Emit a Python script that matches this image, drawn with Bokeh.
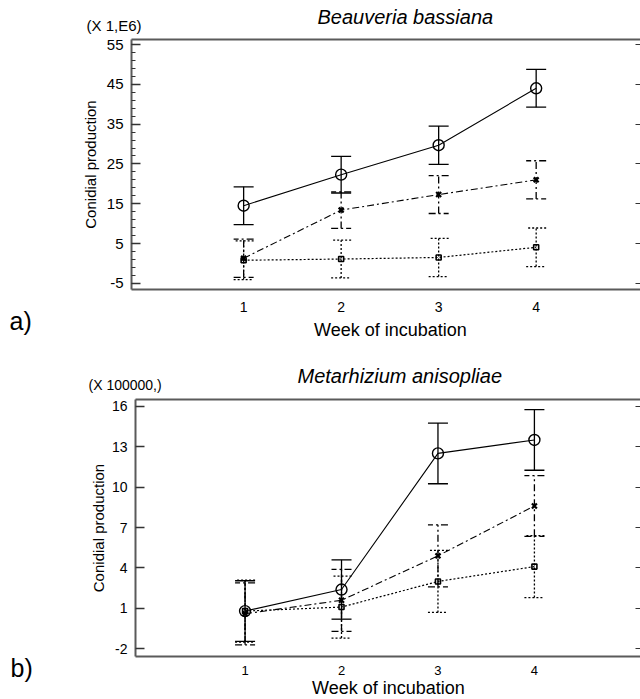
import math
from bokeh.plotting import figure
from bokeh.models import (Range1d, FixedTicker, LinearAxis, Label, Whisker,
                          TeeHead, ColumnDataSource)
from bokeh.layouts import column
from bokeh.embed import file_html
from bokeh.resources import INLINE

# ---------------- data ----------------
weeks = [1, 2, 3, 4]
week_labels = ["1", "2", "3", "4"]

# a) Beauveria bassiana (x 1E6)
bb_s1 = [14.5, 22.3, 29.7, 44.0]
bb_s1_err = [4.75, 4.6, 4.8, 4.75]
bb_s2 = [1.3, 13.4, 17.3, 21.0]
bb_s2_err = [4.8, 4.6, 4.75, 4.8]
bb_s3 = [0.8, 1.1, 1.5, 4.05]
bb_s3_err = [4.85, 4.75, 4.8, 4.85]
bb_yticks = [-5, 5, 15, 25, 35, 45, 55]
bb_ytick_labels = ["-5", "5", "15", "25", "35", "45", "55"]
bb_yminor = list(range(-5, 56, 2))

# b) Metarhizium anisopliae (x 100000)
ma_s1 = [0.8, 2.4, 12.5, 13.5]
ma_s1_err = [2.25, 2.2, 2.25, 2.25]
ma_s2 = [0.6, 1.6, 4.9, 8.6]
ma_s2_err = [2.3, 2.3, 2.3, 2.25]
ma_s3 = [0.8, 1.1, 3.0, 4.1]
ma_s3_err = [2.3, 2.3, 2.3, 2.3]
ma_yticks = [-2, 1, 4, 7, 10, 13, 16]
ma_ytick_labels = ["-2", "1", "4", "7", "10", "13", "16"]

FONT = "Liberation Sans"
AXC = "#5a5a5a"
TICKC = "#333333"
BASE_FIX = 8  # baseline correction for alphabetic labels

styles = [
    dict(dash="solid", marker="circle", msize=11, mlw=1.4, lw=1.1),
    dict(dash="7 3 2 3", marker="x", msize=7, mlw=2.2, lw=1.1),
    dict(dash="2 2", marker="square", msize=5, mlw=1.6, lw=1.2),
]


def add_series(p, vals, errs, st):
    lower = [v - e for v, e in zip(vals, errs)]
    upper = [v + e for v, e in zip(vals, errs)]
    src = ColumnDataSource(dict(x=weeks, y=vals, lo=lower, up=upper))
    p.line("x", "y", source=src, line_color="black", line_width=st["lw"],
           line_dash=st["dash"])
    w = Whisker(base="x", lower="lo", upper="up", source=src,
                line_color="black", line_width=1.3, line_dash=st["dash"],
                upper_head=TeeHead(size=20, line_width=1.3, line_color="black",
                                   line_dash=st["dash"]),
                lower_head=TeeHead(size=20, line_width=1.3, line_color="black",
                                   line_dash=st["dash"]))
    p.add_layout(w)
    p.scatter("x", "y", source=src, marker=st["marker"], size=st["msize"],
              line_color="black", fill_color=None, line_width=st["mlw"])


def make_fig(cw, ch, box_px, box_x, box_y, yticks, ylabels, yminor, ytick_size,
             xtick_size, xstandoff):
    left, right, top, bottom = box_px
    ux = (box_x[1] - box_x[0]) / (right - left)
    uy = (box_y[1] - box_y[0]) / (bottom - top)
    xr = (box_x[0] - left * ux, box_x[1] + (cw - right) * ux)
    yr = (box_y[0] - (ch - bottom) * uy, box_y[1] + top * uy)

    p = figure(width=cw, height=ch, x_range=Range1d(*xr), y_range=Range1d(*yr),
               output_backend="svg", toolbar_location=None, title=None,
               x_axis_type=None, y_axis_type=None,
               min_border_left=0, min_border_right=0, min_border_top=0,
               min_border_bottom=0)
    p.outline_line_color = None
    p.background_fill_color = "white"
    p.border_fill_color = "white"

    xa = LinearAxis(fixed_location=box_y[0], bounds=box_x,
                    ticker=FixedTicker(ticks=weeks),
                    major_label_overrides={w: l for w, l in zip(weeks, week_labels)},
                    major_tick_in=0, major_tick_out=0,
                    minor_tick_in=0, minor_tick_out=0,
                    axis_line_color=AXC, axis_line_width=2,
                    major_label_text_font=FONT,
                    major_label_text_font_size=xtick_size,
                    major_label_text_color="black",
                    major_label_standoff=xstandoff)
    p.add_layout(xa, "below")

    ya = LinearAxis(fixed_location=box_x[0], bounds=box_y,
                    ticker=FixedTicker(ticks=yticks, minor_ticks=yminor),
                    major_label_overrides={t: l for t, l in zip(yticks, ylabels)},
                    major_tick_in=9, major_tick_out=0,
                    minor_tick_in=4, minor_tick_out=0,
                    major_tick_line_color=TICKC, minor_tick_line_color=TICKC,
                    major_tick_line_width=1.3,
                    axis_line_color=AXC, axis_line_width=2,
                    major_label_text_font=FONT,
                    major_label_text_font_size=ytick_size,
                    major_label_text_color="black",
                    major_label_standoff=8)
    p.add_layout(ya, "left")

    ra = LinearAxis(fixed_location=box_x[1], bounds=box_y,
                    ticker=FixedTicker(ticks=yticks),
                    major_tick_in=5, major_tick_out=0,
                    minor_tick_in=0, minor_tick_out=0,
                    major_label_text_color=None, axis_line_color=None,
                    major_tick_line_color=TICKC)
    p.add_layout(ra, "right")

    ta = LinearAxis(fixed_location=box_y[1], bounds=box_x,
                    ticker=FixedTicker(ticks=[]),
                    major_tick_in=0, major_tick_out=0,
                    minor_tick_in=0, minor_tick_out=0,
                    major_label_text_color=None,
                    axis_line_color=AXC, axis_line_width=2)
    p.add_layout(ta, "above")
    return p


def text(p, s, x, y, size, style="normal", align="left", baseline="alphabetic",
         angle=0.0):
    if baseline == "alphabetic":
        y = y + BASE_FIX
    p.add_layout(Label(x=x, y=y, x_units="screen", y_units="screen", text=s,
                       text_font=FONT, text_font_size=size,
                       text_font_style=style, text_align=align,
                       text_baseline=baseline, text_color="black",
                       angle=angle))


# ---------------- figure a ----------------
p1 = make_fig(640, 348, (131, 640, 39, 289), (-0.15, 5.07), (-6.55, 56.26),
              bb_yticks, bb_ytick_labels, bb_yminor, "15px", "14px", 12)
for vals, errs, st in zip([bb_s1, bb_s2, bb_s3],
                          [bb_s1_err, bb_s2_err, bb_s3_err], styles):
    add_series(p1, vals, errs, st)
text(p1, "Beauveria bassiana", 317, 324, "20px", style="italic")
text(p1, "(X 1,E6)", 86, 315, "15px")
text(p1, "Conidial production", 89.5, 184, "15px", align="center",
     baseline="middle", angle=math.pi / 2)
text(p1, "Week of incubation", 390, 10.5, "18px", align="center")
text(p1, "a)", 9, 20, "25px")

# ---------------- figure b ----------------
p2 = make_fig(640, 351, (135, 640, 51, 308), (-0.136, 5.10), (-2.57, 16.5),
              ma_yticks, ma_ytick_labels, [], "14px", "13px", 9)
for vals, errs, st in zip([ma_s1, ma_s2, ma_s3],
                          [ma_s1_err, ma_s2_err, ma_s3_err], styles):
    add_series(p2, vals, errs, st)
text(p2, "Metarhizium anisopliae", 297, 316, "20px", style="italic")
text(p2, "(X 100000,)", 88, 307, "14px")
text(p2, "Conidial production", 97.5, 171.5, "15px", align="center",
     baseline="middle", angle=math.pi / 2)
text(p2, "Week of incubation", 388, 4, "18px", align="center")
text(p2, "b)", 10, 24, "25px")

layout = column(p1, p2, spacing=0)
open("out.html", "w").write(file_html(layout, INLINE))
